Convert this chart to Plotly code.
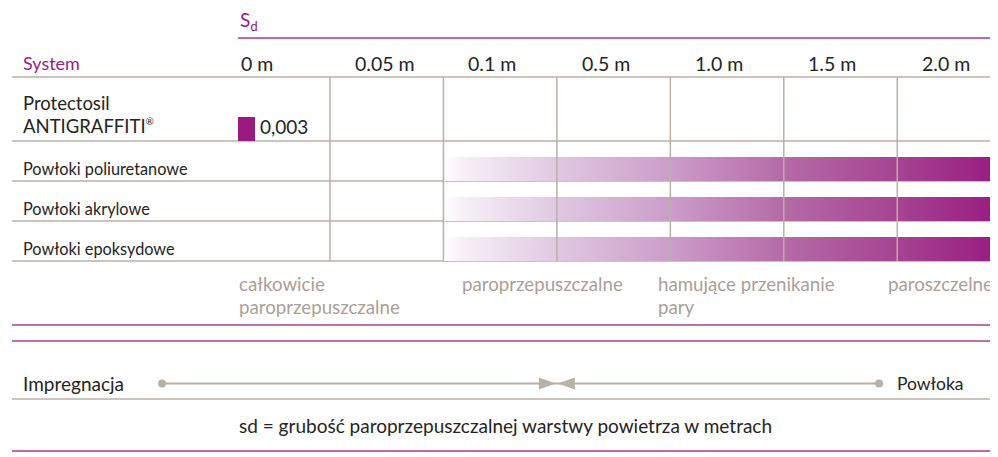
import plotly.graph_objects as go

# ---------------- data ----------------
columns = ["0 m", "0.05 m", "0.1 m", "0.5 m", "1.0 m", "1.5 m", "2.0 m"]
protectosil_lines = ["Protectosil", "ANTIGRAFFITI<sup><span style='font-size:10px'>®</span></sup>"]
protectosil_value_label = "0,003"
protectosil_bar = [0.19, 0.34]          # column units (symbolic small value)
coatings = ["Powłoki poliuretanowe", "Powłoki akrylowe", "Powłoki epoksydowe"]
coating_start = [2.0, 2.0, 2.0]         # begins at the 0.1 m column
coating_end = [6.9, 6.9, 6.9]           # runs past 2.0 m
categories = [["całkowicie", "paroprzepuszczalne"], ["paroprzepuszczalne"],
              ["hamujące przenikanie", "pary"], ["paroszczelne"]]
category_pos = [0.18, 2.15, 3.87, 5.9]
impregnacja_range = [-0.48, 3.0]
powloka_range = [3.0, 5.84]
footnote = "sd = grubość paroprzepuszczalnej warstwy powietrza w metrach"

# ---------------- layout constants (page pixels / column units) ----------------
PAGE_W, PAGE_H, OFF = 998, 457, 8       # page body has an 8px margin
W, H = PAGE_W - OFF, PAGE_H - OFF
X0_PX, COL_PX = 216.5, 113.46
XMIN, XMAX = (OFF - X0_PX) / COL_PX, (PAGE_W - X0_PX) / COL_PX
LEFT = (12 - X0_PX) / COL_PX
LABEL_X = (21 - X0_PX) / COL_PX
SD_Y, SD_LINE_Y, HEADER_Y, TOP_RULE = 21, 38, 63, 77
ROW_BOTTOMS = [141, 181, 221, 261]
BAR_H = 24
CAT_Y = [284, 307]
PURPLE_RULES = [325, 341]
ARROW_Y, GREY_RULE, FOOT_Y, BOTTOM_RULE = 383.5, 399, 425, 451

PURPLE = "#991b80"
PURPLE_LINE = "#c466ad"
PURPLE_DARK_LINE = "#a8408f"
GRID = "#b9b0a7"
GREY_TEXT = "#aaa097"
DARK = "#242424"
FONT = "Lato"

fig = go.Figure()

# gradient bars for coatings
grad = [[0.0, "rgba(255,255,255,1)"], [0.03, "#f7f1f7"], [0.2, "#e0c9e1"],
        [0.41, "#cb9cc9"], [0.61, "#b56ba7"], [0.82, "#a54391"], [1.0, PURPLE]]
for i, name in enumerate(coatings):
    b = ROW_BOTTOMS[i + 1]
    s, e = coating_start[i], coating_end[i]
    fig.add_trace(go.Scatter(
        x=[s, e, e, s, s], y=[b - BAR_H, b - BAR_H, b, b, b - BAR_H],
        mode="none", fill="toself",
        fillgradient=dict(type="horizontal", colorscale=grad),
        hoverinfo="skip", showlegend=False, name=name))

# Protectosil small bar
b0 = ROW_BOTTOMS[0]
fig.add_trace(go.Bar(
    x=[protectosil_bar[1] - protectosil_bar[0]], base=[protectosil_bar[0]],
    y=[b0 - 12], width=[24], orientation="h",
    marker=dict(color=PURPLE, line=dict(width=0)),
    showlegend=False, hoverinfo="skip"))

# arrows: lines + end dots
for rng, dot_idx in [(impregnacja_range, 0), (powloka_range, 1)]:
    fig.add_trace(go.Scatter(
        x=rng, y=[ARROW_Y, ARROW_Y], mode="lines",
        line=dict(color=GRID, width=2), showlegend=False, hoverinfo="skip"))
    fig.add_trace(go.Scatter(
        x=[rng[dot_idx]], y=[ARROW_Y], mode="markers",
        marker=dict(color=GRID, size=8, line=dict(width=0)),
        showlegend=False, hoverinfo="skip"))

shapes = []
# arrow heads (pixel-sized triangles anchored at the meeting point)
shapes.append(dict(type="path", xref="x", yref="y", xsizemode="pixel", ysizemode="pixel",
                   xanchor=impregnacja_range[1], yanchor=ARROW_Y,
                   path="M -18,-6 L -1,0 L -18,6 Z", fillcolor=GRID, line=dict(width=0)))
shapes.append(dict(type="path", xref="x", yref="y", xsizemode="pixel", ysizemode="pixel",
                   xanchor=powloka_range[0], yanchor=ARROW_Y,
                   path="M 18,-6 L 1,0 L 18,6 Z", fillcolor=GRID, line=dict(width=0)))

# horizontal rules
def hline(y, x0, color, width, layer="below"):
    shapes.append(dict(type="line", xref="x", yref="y", x0=x0, x1=XMAX + 0.1, y0=y, y1=y,
                       line=dict(color=color, width=width), layer=layer))

hline(SD_LINE_Y, 0.19, PURPLE_LINE, 2)
hline(TOP_RULE, LEFT, GRID, 1.5)
for yb in ROW_BOTTOMS:
    hline(yb, LEFT, GRID, 1.5)
for yp in PURPLE_RULES:
    hline(yp, LEFT, PURPLE_DARK_LINE, 1.5)
hline(GREY_RULE, LEFT, GRID, 1.5)
hline(BOTTOM_RULE, LEFT, PURPLE_LINE, 2)

# vertical column separators (above bars)
for c in range(1, len(columns)):
    shapes.append(dict(type="line", xref="x", yref="y", x0=c, x1=c,
                       y0=TOP_RULE, y1=ROW_BOTTOMS[-1],
                       line=dict(color=GRID, width=1.5), layer="above"))

ann = []
def text(x, y, t, size, color=DARK, xanchor="left"):
    ann.append(dict(x=x, y=y, xref="x", yref="y", text=t, showarrow=False,
                    xanchor=xanchor, yanchor="middle",
                    font=dict(family=FONT, size=size, color=color)))

text(0.19, SD_Y, "S<sub>d</sub>", 19, PURPLE)
text(LABEL_X, HEADER_Y, "System", 18, PURPLE)
for i, c in enumerate(columns):
    text(i + 0.2, HEADER_Y, c, 19.5)
text(LABEL_X, 103, protectosil_lines[0], 18.5)
text(LABEL_X, 126, protectosil_lines[1], 18.5)
text(protectosil_bar[1] + 0.025, 126, protectosil_value_label, 19)
for i, name in enumerate(coatings):
    text(LABEL_X, ROW_BOTTOMS[i + 1] - 13, name, 16.3)
for lines, xp in zip(categories, category_pos):
    for j, ln in enumerate(lines):
        text(xp, CAT_Y[j], ln, 18.7, GREY_TEXT)
text(LABEL_X, ARROW_Y, "Impregnacja", 19)
text(5.98, ARROW_Y, "Powłoka", 17.5)
text((505 - X0_PX) / COL_PX, FOOT_Y, footnote, 19, DARK, "center")

fig.update_layout(
    width=W, height=H, margin=dict(l=0, r=0, t=0, b=0),
    paper_bgcolor="white", plot_bgcolor="white",
    xaxis=dict(range=[XMIN, XMAX], visible=False, fixedrange=True),
    yaxis=dict(range=[PAGE_H, OFF], visible=False, fixedrange=True),
    shapes=shapes, annotations=ann, showlegend=False, bargap=0,
)

fig.write_html("out.html")
